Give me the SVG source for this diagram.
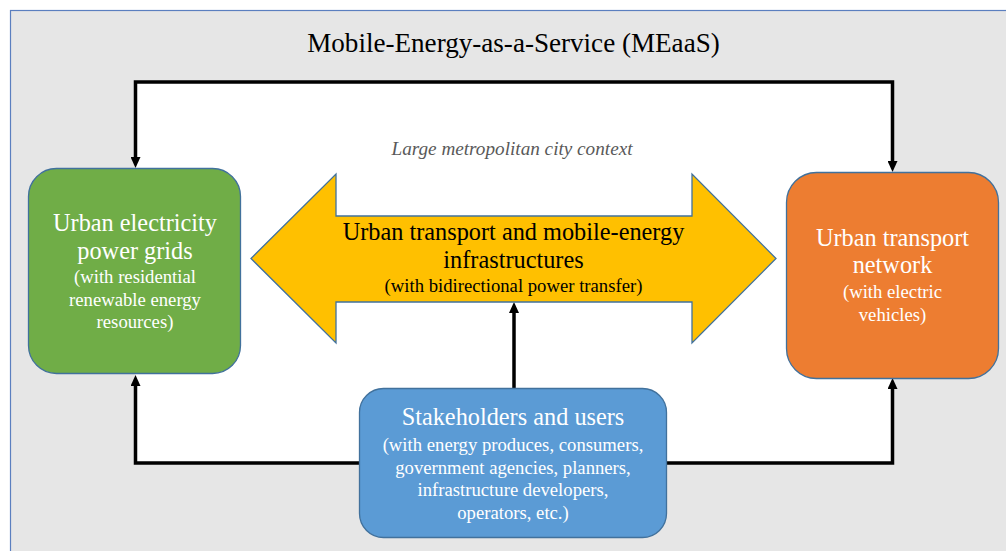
<svg xmlns="http://www.w3.org/2000/svg" width="1006" height="551" viewBox="0 0 1006 551">
<style>
  .box { stroke: #41719c; stroke-width: 1.3; }
  .conn { fill: none; stroke: #000; stroke-width: 3.5; stroke-linejoin: miter; }
  .t { font-family: "Liberation Serif", Tinos, "Times New Roman", "Noto Serif", "DejaVu Serif", serif; text-anchor: middle; }
  .main { font-size: 24.3px; }
  .small { font-size: 18.7px; }
  .w { fill: #ffffff; }
  .k { fill: #000000; }
</style>
<defs>
  <marker id="ah" viewBox="0 0 11 10" refX="0" refY="5" markerWidth="11" markerHeight="10" markerUnits="userSpaceOnUse" orient="auto-start-reverse">
    <path d="M0,0 L11,5 L0,10 z" fill="#000"/>
  </marker>
</defs>

<g id="frame">
  <rect x="10.5" y="10.5" width="1010" height="560" fill="#e6e6e6" stroke="#5b7fbf" stroke-width="1.2"/>
  <rect x="135.5" y="82" width="757" height="381" fill="#ffffff"/>
  <text class="t k" x="513.5" y="52" font-size="27.1">Mobile-Energy-as-a-Service (MEaaS)</text>
  <text class="t" x="512" y="155" font-size="19.2" font-style="italic" fill="#595959">Large metropolitan city context</text>
</g>

<g id="connectors">
  <path class="conn" d="M135.5,157 V82 H892.5 V161" marker-start="url(#ah)" marker-end="url(#ah)"/>
  <path class="conn" d="M360,463 H135.5 V386" marker-end="url(#ah)"/>
  <path class="conn" d="M666,463 H892.5 V389" marker-end="url(#ah)"/>
  <path class="conn" d="M514,388 V313" marker-end="url(#ah)"/>
</g>

<g id="power-grids">
  <rect class="box" x="28.5" y="168.5" width="212" height="205" rx="28" ry="28" fill="#70ad47"/>
  <text class="t main w" x="135" y="231">Urban electricity</text>
  <text class="t main w" x="135" y="259">power grids</text>
  <text class="t small w" x="135" y="283">(with residential</text>
  <text class="t small w" x="135" y="305.5">renewable energy</text>
  <text class="t small w" x="135" y="328">resources)</text>
</g>

<g id="infrastructures">
  <polygon class="box" points="251,258.5 336,174 336,216 692,216 692,174 776,258.5 692,343 692,302 336,302 336,343" fill="#ffc000"/>
  <text class="t main k" x="513.5" y="240">Urban transport and mobile-energy</text>
  <text class="t main k" x="513.5" y="268">infrastructures</text>
  <text class="t small k" x="513.5" y="292">(with bidirectional power transfer)</text>
</g>

<g id="transport-network">
  <rect class="box" x="786.5" y="172.5" width="212" height="206" rx="30" ry="30" fill="#ed7d31"/>
  <text class="t main w" x="892.5" y="246">Urban transport</text>
  <text class="t main w" x="892.5" y="273">network</text>
  <text class="t small w" x="892.5" y="298">(with electric</text>
  <text class="t small w" x="892.5" y="321">vehicles)</text>
</g>

<g id="stakeholders">
  <rect class="box" x="359.5" y="388.5" width="307" height="149" rx="24" ry="24" fill="#5b9bd5"/>
  <text class="t main w" x="513" y="425">Stakeholders and users</text>
  <text class="t small w" x="513" y="451">(with energy produces, consumers,</text>
  <text class="t small w" x="513" y="473.5">government agencies, planners,</text>
  <text class="t small w" x="513" y="496">infrastructure developers,</text>
  <text class="t small w" x="513" y="518.5">operators, etc.)</text>
</g>
</svg>
